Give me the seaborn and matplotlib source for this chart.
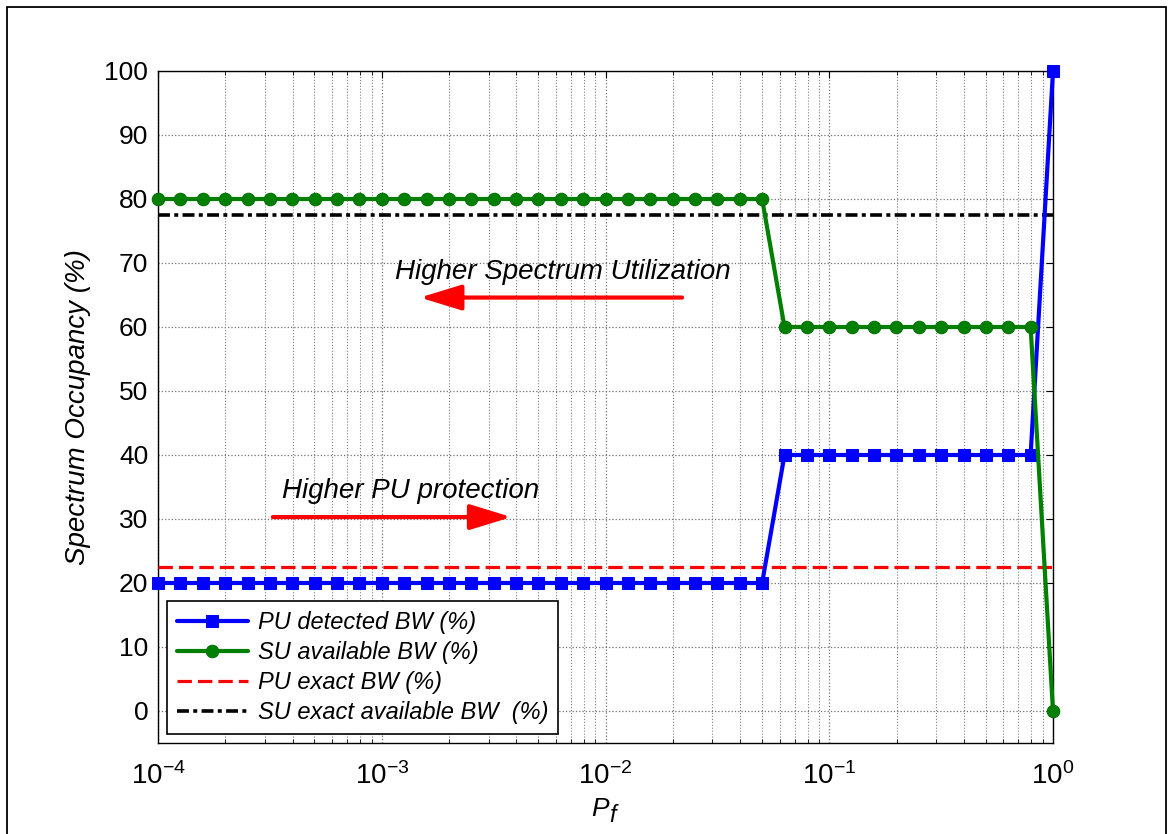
import numpy as np
import pandas as pd
import matplotlib
matplotlib.use("Agg")
import matplotlib.pyplot as plt
from matplotlib.patches import Rectangle
from matplotlib.ticker import LogLocator, FixedLocator, NullFormatter
import seaborn as sns

# ---------------- data ----------------
log10_pf = [-4.0, -3.9, -3.8, -3.7, -3.6, -3.5, -3.4, -3.3, -3.2, -3.1,
            -3.0, -2.9, -2.8, -2.7, -2.6, -2.5, -2.4, -2.3, -2.2, -2.1,
            -2.0, -1.9, -1.8, -1.7, -1.6, -1.5, -1.4, -1.3, -1.2, -1.1,
            -1.0, -0.9, -0.8, -0.7, -0.6, -0.5, -0.4, -0.3, -0.2, -0.1, 0.0]
pu_detected = [20, 20, 20, 20, 20, 20, 20, 20, 20, 20,
               20, 20, 20, 20, 20, 20, 20, 20, 20, 20,
               20, 20, 20, 20, 20, 20, 20, 20, 40, 40,
               40, 40, 40, 40, 40, 40, 40, 40, 40, 40, 100]
su_available = [80, 80, 80, 80, 80, 80, 80, 80, 80, 80,
                80, 80, 80, 80, 80, 80, 80, 80, 80, 80,
                80, 80, 80, 80, 80, 80, 80, 80, 60, 60,
                60, 60, 60, 60, 60, 60, 60, 60, 60, 60, 0]
exact_x = [1e-4, 1.0]
pu_exact = [22.5, 22.5]
su_exact = [77.5, 77.5]
series_labels = ["PU detected BW (%)", "SU available BW (%)",
                 "PU exact BW (%)", "SU exact available BW  (%)"]
y_ticks = [0, 10, 20, 30, 40, 50, 60, 70, 80, 90, 100]
x_ticks = [1e-4, 1e-3, 1e-2, 1e-1, 1e0]
x_tick_labels = [r"$10^{-4}$", r"$10^{-3}$", r"$10^{-2}$", r"$10^{-1}$", r"$10^{0}$"]

pf = 10 ** np.array(log10_pf)
df = pd.DataFrame({"pf": pf, "pu": pu_detected, "su": su_available})
df_exact = pd.DataFrame({"pf": exact_x, "pu": pu_exact, "su": su_exact})

# ---------------- style ----------------
sns.set_theme(style="white")
plt.rcParams["font.family"] = ["Liberation Sans", "DejaVu Sans"]
plt.rcParams["mathtext.fontset"] = "custom"
plt.rcParams["mathtext.rm"] = "Liberation Sans"
plt.rcParams["mathtext.it"] = "Liberation Sans:italic"
plt.rcParams["mathtext.default"] = "regular"
for k in ["text.color", "axes.labelcolor", "xtick.color", "ytick.color"]:
    plt.rcParams[k] = "black"

W, H = 1171, 834
fig = plt.figure(figsize=(W / 100, H / 100), dpi=100)
fig.patch.set_facecolor("white")
ax = fig.add_axes([158 / W, 1 - 743 / H, (1053 - 158) / W, (743 - 71) / H])
ax.set_facecolor("white")

sns.lineplot(data=df, x="pf", y="pu", ax=ax, color="#0000FF", lw=3,
             marker="s", markersize=9, markeredgecolor="#0000FF",
             markerfacecolor="#0000FF", label=series_labels[0], clip_on=False,
             zorder=5)
sns.lineplot(data=df, x="pf", y="su", ax=ax, color="#008000", lw=3,
             marker="o", markersize=9, markeredgecolor="#007000",
             markerfacecolor="#008000", label=series_labels[1], clip_on=False,
             zorder=5)
sns.lineplot(data=df_exact, x="pf", y="pu", ax=ax, color="#FF0000", lw=2.3,
             dashes=False, label=series_labels[2], zorder=4)
sns.lineplot(data=df_exact, x="pf", y="su", ax=ax, color="black", lw=2.6,
             dashes=False, label=series_labels[3], zorder=4)
lines = ax.get_lines()
lines[2].set_dashes((4.5, 1.9))
lines[3].set_dashes((3.3, 1.2, 1.1, 1.2))

ax.set_xscale("log")
ax.set_xlim(1e-4, 1)
ax.set_ylim(-5, 100)
ax.yaxis.set_major_locator(FixedLocator(y_ticks))
ax.set_xticks(x_ticks)
ax.set_xticklabels(x_tick_labels)
ax.xaxis.set_minor_locator(LogLocator(base=10, subs=np.arange(2, 10), numticks=20))
ax.xaxis.set_minor_formatter(NullFormatter())

ax.grid(True, which="major", axis="both", color="#707070", linestyle=":", lw=0.9)
ax.grid(True, which="minor", axis="x", color="#808080", linestyle=":", lw=0.8)
ax.set_axisbelow(True)

ax.tick_params(axis="both", which="major", direction="in", length=5, width=0.8,
               top=True, right=True, labelsize=19, colors="black")
ax.tick_params(axis="x", which="minor", direction="in", length=3, width=0.6,
               top=True, bottom=True)
ax.tick_params(axis="x", which="major", pad=14, labelsize=20)
ax.tick_params(axis="y", which="major", pad=7)
for sp in ax.spines.values():
    sp.set_color("black")
    sp.set_linewidth(1.0)

# x label: italic P with a large italic subscript f
ax.set_xlabel("P", fontsize=19, style="italic")
ax.xaxis.set_label_coords((599.5 - 158) / 895, (743 - 797) / 672)
ax.annotate("f", xy=(1, 1), xycoords=ax.xaxis.label, xytext=(1, -5),
            textcoords="offset points", fontsize=17, style="italic",
            ha="left", va="top", annotation_clip=False)
ax.set_ylabel("Spectrum Occupancy (%)", fontsize=20, style="italic", labelpad=10)

# annotations
ax.text(1.146e-3, 67.5, "Higher Spectrum Utilization", fontsize=20,
        style="italic", va="baseline", ha="left")
ax.annotate("", xy=(1.48e-3, 64.6), xytext=(2.2e-2, 64.6),
            arrowprops=dict(arrowstyle="-|>,head_length=0.85,head_width=0.26",
                            color="#FF0000", lw=3, mutation_scale=30,
                            shrinkA=0, shrinkB=0))
ax.text(3.6e-4, 33.3, "Higher PU protection", fontsize=20,
        style="italic", va="baseline", ha="left")
ax.annotate("", xy=(3.8e-3, 30.3), xytext=(3.26e-4, 30.3),
            arrowprops=dict(arrowstyle="-|>,head_length=0.85,head_width=0.26",
                            color="#FF0000", lw=3, mutation_scale=30,
                            shrinkA=0, shrinkB=0))

leg = ax.legend(loc="lower left", bbox_to_anchor=(0, 0), borderaxespad=0.4,
                fontsize=17, frameon=True, fancybox=False, framealpha=1,
                edgecolor="black", handlelength=3.0, handletextpad=0.45,
                labelspacing=0.3, borderpad=0.4)
leg.get_frame().set_linewidth(1.2)
for t in leg.get_texts():
    t.set_fontstyle("italic")
    t.set_color("black")
leg.set_zorder(10)

# outer border of the figure
fig.patches.append(Rectangle((7 / W, -0.05), (1166 - 7) / W, 1.05 - 7 / H,
                             transform=fig.transFigure, fill=False,
                             ec="black", lw=1.3))

fig.savefig("out.png", dpi=100, facecolor="white")
